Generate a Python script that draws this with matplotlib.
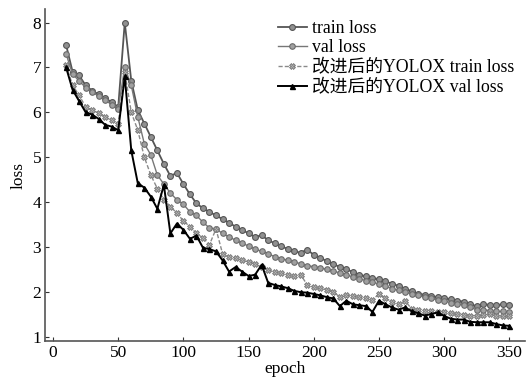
import matplotlib
matplotlib.use('Agg')
import matplotlib.pyplot as plt
import numpy as np

plt.rcParams['font.family'] = ['Liberation Serif', 'Noto Sans CJK SC']
plt.rcParams['mathtext.fontset'] = 'stix'

epochs = list(range(10, 351, 5))

train_loss = [7.5, 6.9, 6.82, 6.6, 6.48, 6.4, 6.32, 6.22, 6.12, 8.0,
              6.7, 6.05, 5.75, 5.45, 5.15, 4.85, 4.58, 4.65, 4.4, 4.17,
              3.97, 3.86, 3.78, 3.7, 3.62, 3.54, 3.45, 3.38, 3.3, 3.22,
              3.26, 3.15, 3.08, 3.02, 2.95, 2.9, 2.87, 2.94, 2.82, 2.76,
              2.68, 2.62, 2.55, 2.5, 2.44, 2.38, 2.34, 2.3, 2.28, 2.23,
              2.18, 2.13, 2.07, 2.01, 1.96, 1.93, 1.9, 1.88, 1.86, 1.83,
              1.8, 1.78, 1.72, 1.68, 1.72, 1.71, 1.7, 1.72, 1.71]

val_loss = [7.3, 6.85, 6.7, 6.55, 6.45, 6.36, 6.27, 6.17, 6.08, 7.0,
            6.6, 5.9, 5.3, 5.05, 4.6, 4.4, 4.2, 4.05, 3.95, 3.78,
            3.7, 3.55, 3.42, 3.4, 3.3, 3.22, 3.15, 3.08, 3.02, 2.95,
            2.9, 2.85, 2.78, 2.74, 2.7, 2.67, 2.62, 2.58, 2.56, 2.53,
            2.5, 2.46, 2.42, 2.38, 2.33, 2.29, 2.25, 2.22, 2.17, 2.12,
            2.07, 2.03, 1.99, 1.95, 1.92, 1.88, 1.85, 1.82, 1.79, 1.76,
            1.73, 1.7, 1.65, 1.6, 1.6, 1.58, 1.56, 1.56, 1.54]

new_train_loss = [7.05, 6.6, 6.38, 6.12, 6.05, 5.98, 5.9, 5.82, 5.75, 6.9,
                  6.0, 5.6, 5.0, 4.6, 4.3, 4.05, 3.9, 3.75, 3.58, 3.45,
                  3.3, 3.2, 3.05, 3.4, 2.85, 2.78, 2.75, 2.7, 2.67, 2.62,
                  2.55, 2.48, 2.45, 2.42, 2.38, 2.35, 2.38, 2.15, 2.1, 2.08,
                  2.05, 2.0, 1.88, 1.92, 1.9, 1.88, 1.86, 1.82, 1.95, 1.85,
                  1.78, 1.72, 1.8, 1.62, 1.6, 1.58, 1.56, 1.55, 1.54, 1.52,
                  1.5, 1.49, 1.47, 1.46, 1.48, 1.5, 1.47, 1.45, 1.46]

new_val_loss = [7.0, 6.5, 6.25, 6.0, 5.95, 5.85, 5.72, 5.68, 5.6, 6.8,
                5.15, 4.42, 4.32, 4.12, 3.85, 4.38, 3.3, 3.52, 3.38, 3.18,
                3.25, 2.98, 2.95, 2.9, 2.7, 2.45, 2.55, 2.45, 2.35, 2.38,
                2.6, 2.2, 2.15, 2.12, 2.08, 2.02, 1.99, 1.98, 1.95, 1.92,
                1.88, 1.85, 1.68, 1.8, 1.72, 1.7, 1.68, 1.55, 1.8, 1.72,
                1.65, 1.6, 1.65, 1.57, 1.52, 1.47, 1.5, 1.54, 1.46, 1.4,
                1.38, 1.38, 1.33, 1.32, 1.32, 1.32, 1.28, 1.25, 1.24]

labels = ['train loss', 'val loss', '改进后的YOLOX train loss', '改进后的YOLOX val loss']

fig = plt.figure(figsize=(5.26, 3.79), dpi=100)
ax = fig.add_axes([0.086, 0.1, 0.912, 0.876])

ax.plot(epochs, train_loss, color='#555555', lw=1.3, marker='o', ms=4.2,
        mfc='#909090', mec='#555555', mew=0.8, label=labels[0])
ax.plot(epochs, val_loss, color='#777777', lw=1.0, marker='o', ms=4.0,
        mfc='#a0a0a0', mec='#6a6a6a', mew=0.8, label=labels[1])
ax.plot(epochs, new_train_loss, color='#8a8a8a', lw=1.0, ls=(0, (3, 1.5)), marker='X', ms=4.2,
        mfc='#b0b0b0', mec='#777777', mew=0.6, label=labels[2])
ax.plot(epochs, new_val_loss, color='black', lw=1.4, marker='^', ms=3.6,
        mfc='black', mec='black', label=labels[3])

ax.set_xlim(-6, 362)
ax.set_ylim(0.9, 8.3)
ax.set_xticks(range(0, 351, 50))
ax.set_yticks(range(1, 9))

for s in ['top', 'right']:
    ax.spines[s].set_visible(False)
for s in ['left', 'bottom']:
    ax.spines[s].set_color('#555555')
    ax.spines[s].set_linewidth(1.2)
ax.tick_params(direction='in', length=3, labelsize=12.5, color='#333333', pad=3)

ax.set_xlabel('epoch', fontsize=12.5, labelpad=0)
ax.set_ylabel('loss', fontsize=12.5, labelpad=4)

leg = ax.legend(loc='upper right', bbox_to_anchor=(1.0, 1.0), frameon=False, fontsize=12.8,
                handlelength=1.6, handletextpad=0.3, labelspacing=0.15, borderaxespad=0.2)

fig.savefig('out.png', dpi=100)
